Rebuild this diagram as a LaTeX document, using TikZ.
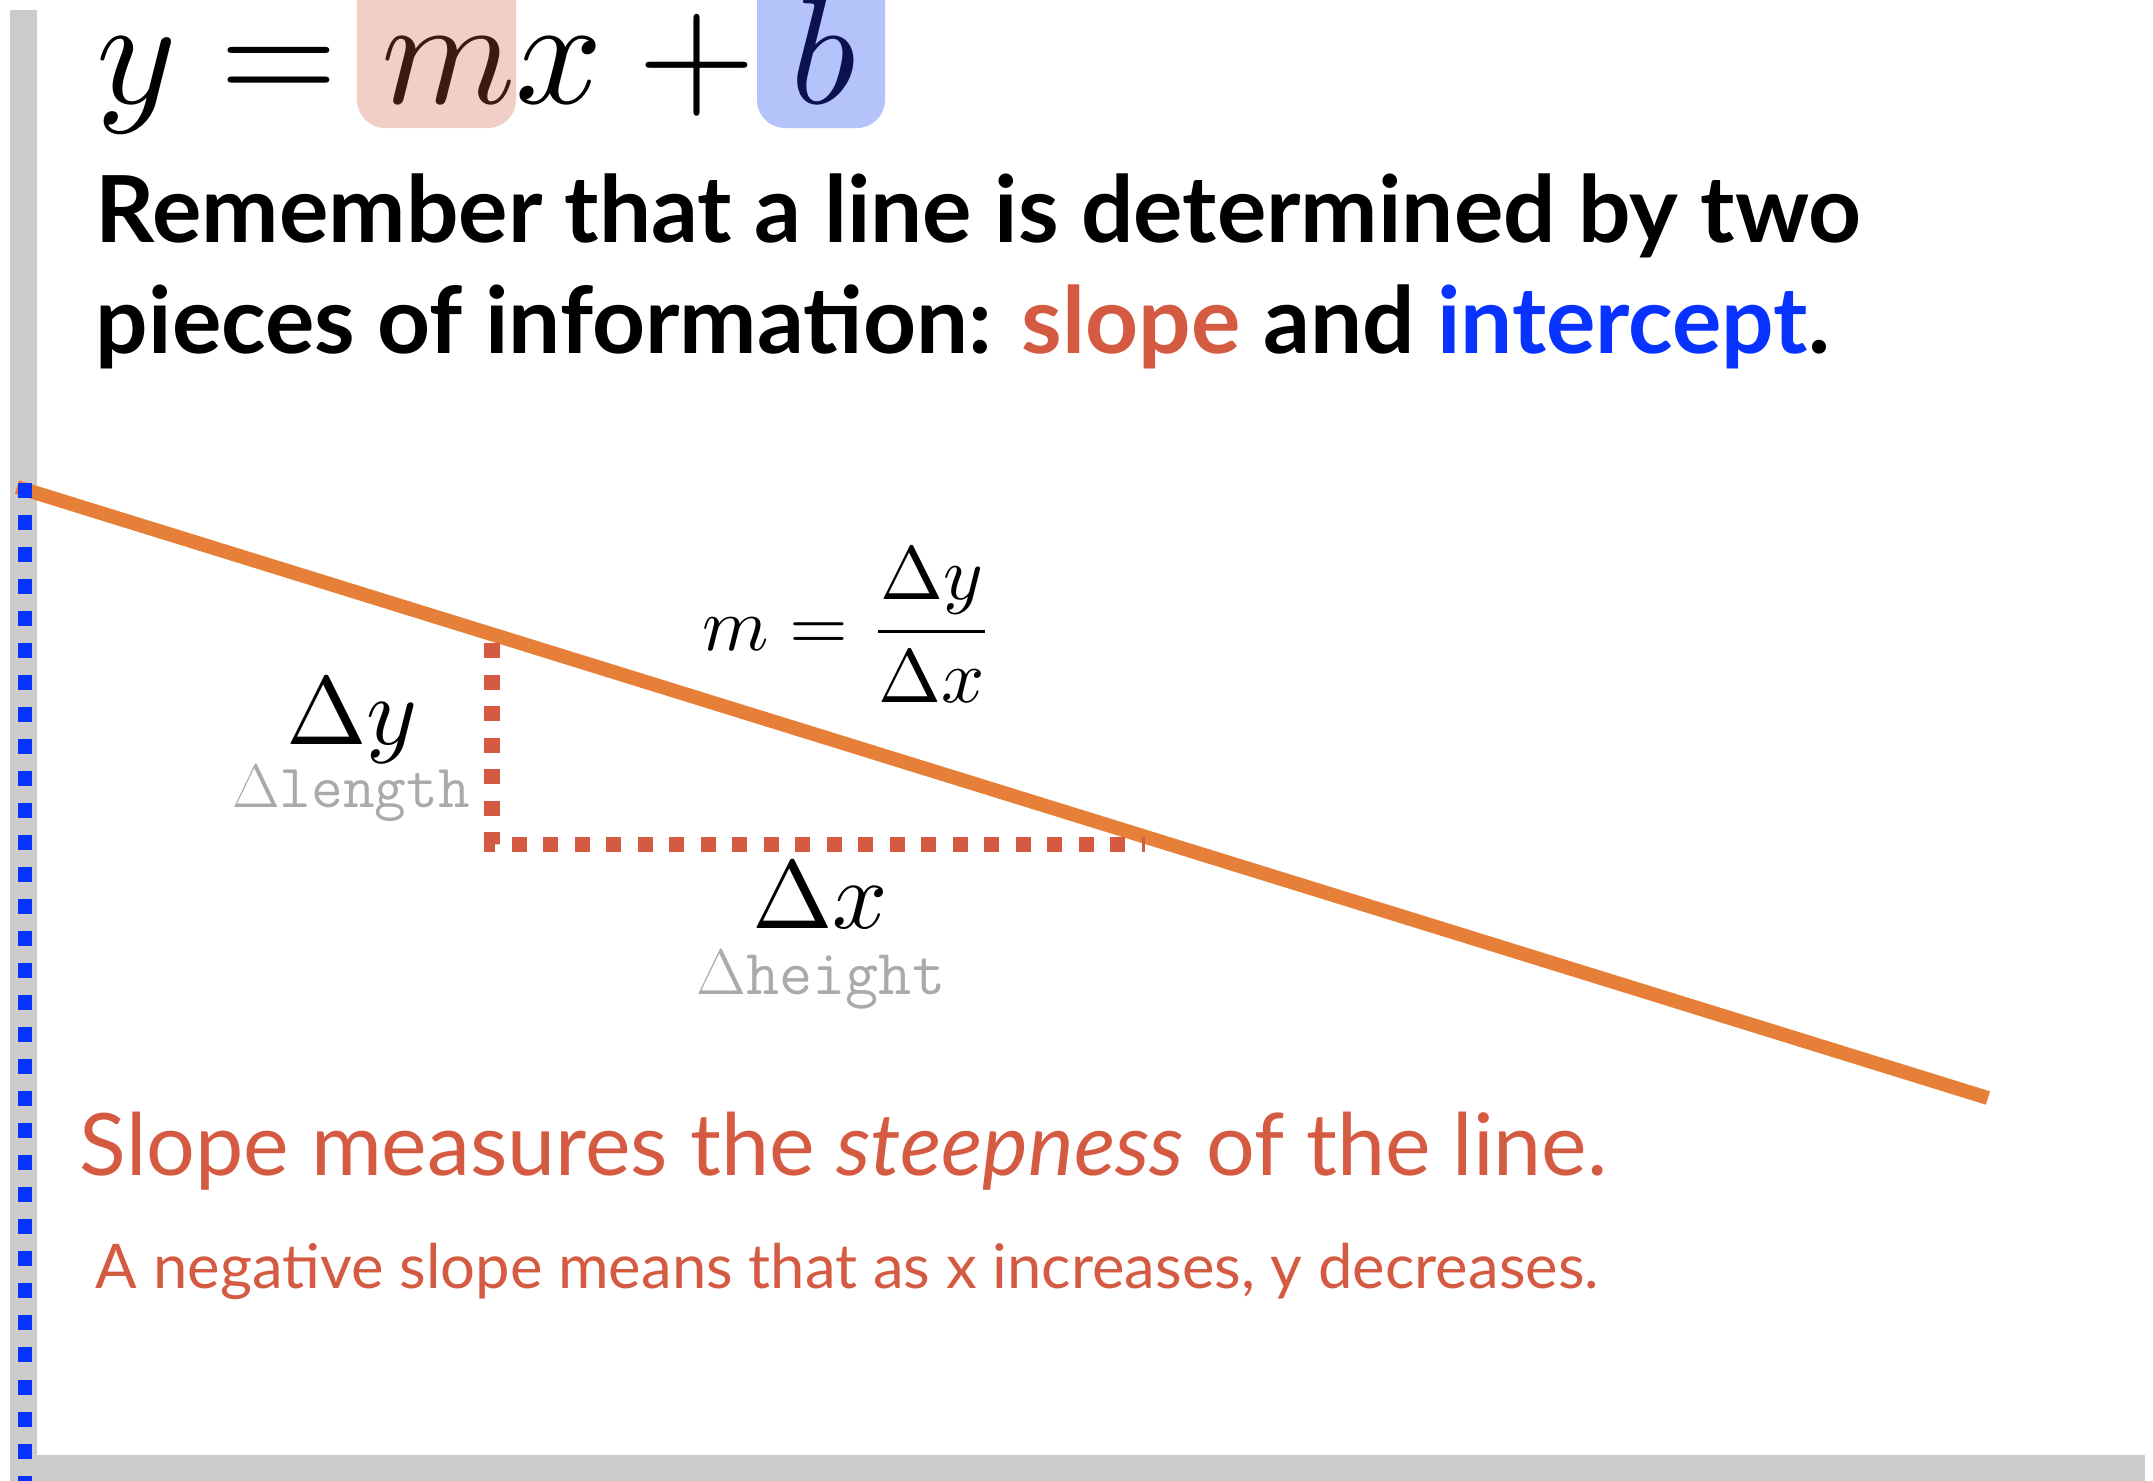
\RequirePackage{fix-cm}
\documentclass[tikz,border=0pt]{standalone}
\usepackage{amsmath}
\usepackage{graphicx}
\usepackage{fontspec}
\setsansfont{Lato}
\usepackage{color}
\definecolor{axisgray}{RGB}{204,204,204}
\definecolor{lineorange}{RGB}{230,128,56}
\definecolor{slopered}{RGB}{212,91,65}
\definecolor{interblue}{RGB}{8,50,255}
\definecolor{slopebg}{RGB}{241,206,198}
\definecolor{interbg}{RGB}{180,195,250}
\definecolor{slopeink}{RGB}{60,26,20}
\definecolor{interink}{RGB}{12,18,78}
\definecolor{notegray}{RGB}{170,170,170}

\begin{document}
\begin{tikzpicture}[x=0.01cm, y=-0.01cm, every node/.style={inner sep=0pt, outer sep=0pt}]
            \clip (0,0) rectangle (2153,1481);
            \fill[axisgray] (10,10) rectangle (37,1481);
            \fill[axisgray] (10,1455) rectangle (2145,1481);
            \fill[slopebg, rounded corners=0.28cm] (357,-60) rectangle (516,128);
            \fill[interbg, rounded corners=0.28cm] (757,-60) rectangle (885,128);

            \node[anchor=base west] (eqn) at (97,103) {\scalebox{4.35}{$y = {\color{slopeink}m}x + {\color{interink}b}$}};
            \node[anchor=base west, font=\fontsize{26.3}{30}\selectfont\sffamily\bfseries] (hdrA) at (96,242) {Remember that a line is determined by two};
            \node[anchor=base west, font=\fontsize{26.3}{30}\selectfont\sffamily\bfseries] (hdrB) at (96,353) {pieces of information: \textcolor{slopered}{slope} and \textcolor{interblue}{intercept}.};

            \coordinate (lstart) at (17,487);
            \coordinate (lend) at (1988,1098);
            \coordinate (rtop) at (492,643);
            \coordinate (rcorner) at (492,844);
            \coordinate (rend) at (1145,844);
            \coordinate (btop) at (25,483);
            \coordinate (bbot) at (25,1481);

            \draw[lineorange, line width=0.14cm] (lstart) -- (lend);
            \draw[slopered, line width=0.15cm, dash pattern=on 0.15cm off 0.165cm] (rtop) -- (rcorner) -- (rend);
            \draw[interblue, line width=0.14cm, dash pattern=on 0.15cm off 0.17cm] (btop) -- (bbot);

            \node (slopeeq) at (848,625) {\scalebox{2.15}{$m = \dfrac{\Delta y}{\Delta x}$}};
            \node[anchor=base] (dy) at (352,744) {\scalebox{2.75}{$\Delta y$}};
            \node[anchor=base, text=notegray, font=\fontsize{17.5}{20}\selectfont] (dylen) at (351,807) {$\Delta$\texttt{length}};
            \node[anchor=base] (dx) at (820,928) {\scalebox{2.75}{$\Delta x$}};
            \node[anchor=base, text=notegray, font=\fontsize{18.3}{21}\selectfont] (dxlen) at (821,994) {$\Delta$\texttt{height}};

            \node[anchor=base west, text=slopered, font=\fontsize{24.5}{30}\selectfont\sffamily] (steep) at (80,1175) {Slope measures the \textit{steepness} of the line.};
            \node[anchor=base west, text=slopered, font=\fontsize{17.5}{21}\selectfont\sffamily] (negnote) at (96,1288) {A negative slope means that as x increases, y decreases.};
        \end{tikzpicture}
\end{document}
